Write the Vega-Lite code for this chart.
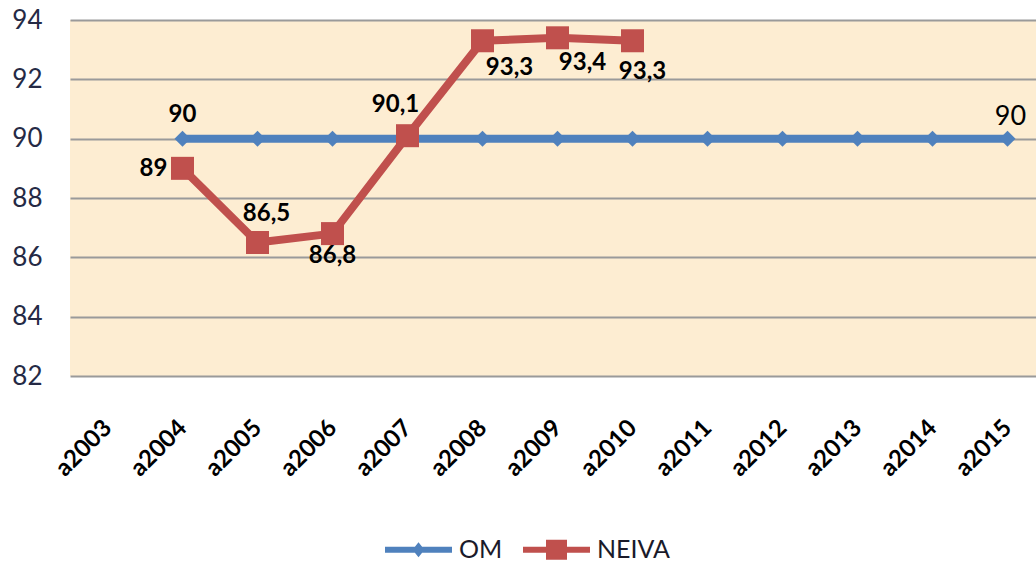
{
  "$schema": "https://vega.github.io/schema/vega-lite/v6.json",
  "width": 975,
  "height": 356,
  "autosize": "none",
  "padding": {"left": 70, "top": 20, "right": 0, "bottom": 189},
  "background": "white",
  "config": {
    "view": {"fill": "#FDEDD2", "stroke": null},
    "font": "Lato"
  },
  "data": {
    "values": [
      {"year": "a2004", "series": "OM", "value": 90, "label": "90"},
      {"year": "a2005", "series": "OM", "value": 90, "label": "90"},
      {"year": "a2006", "series": "OM", "value": 90, "label": "90"},
      {"year": "a2007", "series": "OM", "value": 90, "label": "90"},
      {"year": "a2008", "series": "OM", "value": 90, "label": "90"},
      {"year": "a2009", "series": "OM", "value": 90, "label": "90"},
      {"year": "a2010", "series": "OM", "value": 90, "label": "90"},
      {"year": "a2011", "series": "OM", "value": 90, "label": "90"},
      {"year": "a2012", "series": "OM", "value": 90, "label": "90"},
      {"year": "a2013", "series": "OM", "value": 90, "label": "90"},
      {"year": "a2014", "series": "OM", "value": 90, "label": "90"},
      {"year": "a2015", "series": "OM", "value": 90, "label": "90"},
      {"year": "a2004", "series": "NEIVA", "value": 89, "label": "89"},
      {"year": "a2005", "series": "NEIVA", "value": 86.5, "label": "86,5"},
      {"year": "a2006", "series": "NEIVA", "value": 86.8, "label": "86,8"},
      {"year": "a2007", "series": "NEIVA", "value": 90.1, "label": "90,1"},
      {"year": "a2008", "series": "NEIVA", "value": 93.3, "label": "93,3"},
      {"year": "a2009", "series": "NEIVA", "value": 93.4, "label": "93,4"},
      {"year": "a2010", "series": "NEIVA", "value": 93.3, "label": "93,3"}
    ]
  },
  "encoding": {
    "x": {
      "field": "year",
      "type": "ordinal",
      "scale": {"type": "point", "padding": 0.5, "domain": ["a2003", "a2004", "a2005", "a2006", "a2007", "a2008", "a2009", "a2010", "a2011", "a2012", "a2013", "a2014", "a2015"]},
      "axis": {
        "title": null,
        "domain": false,
        "ticks": false,
        "grid": false,
        "labelAngle": -45,
        "labelAlign": "right",
        "labelBaseline": "alphabetic",
        "labelPadding": 53,
        "labelOffset": 5,
        "labelFont": "Lato",
        "labelFontWeight": "bold",
        "labelFontSize": 24,
        "labelColor": "#000000"
      }
    },
    "y": {
      "field": "value",
      "type": "quantitative",
      "scale": {"domain": [82, 94], "nice": false, "zero": false},
      "axis": {
        "title": null,
        "values": [82, 84, 86, 88, 90, 92, 94],
        "domain": false,
        "ticks": false,
        "grid": true,
        "gridColor": "#9a9a9a",
        "gridWidth": 2,
        "labelPadding": 28,
        "labelFont": "Lato",
        "labelFontSize": 26,
        "labelColor": "#252a45"
      }
    },
    "color": {
      "field": "series",
      "type": "nominal",
      "scale": {"domain": ["OM", "NEIVA"], "range": ["#4F81BD", "#C0504D"]},
      "legend": {
        "title": null,
        "orient": "none",
        "direction": "horizontal",
        "legendX": 336,
        "legendY": 517,
        "symbolType": "square",
        "symbolSize": 400,
        "symbolOpacity": 1,
        "symbolStrokeWidth": 0,
        "labelOffset": 28,
        "columnPadding": 20,
        "labelFont": "Lato",
        "labelFontSize": 25,
        "labelColor": "#1a1a2a",
        "encode": {
          "symbols": {
            "update": {
              "fill": {"signal": "datum.value === 'OM' ? '#4F81BD' : '#C0504D'"},
              "shape": {"signal": "datum.value === 'OM' ? 'M-3.35,-0.3L3.35,-0.3L3.35,0.3L-3.35,0.3Z M0,-0.75L0.6,0L0,0.75L-0.6,0Z' : 'M-3.35,-0.3L3.35,-0.3L3.35,0.3L-3.35,0.3Z M-1.05,-1L1.05,-1L1.05,1L-1.05,1Z'"}
            }
          }
        }
      }
    }
  },
  "layer": [
    {
      "mark": {"type": "line", "strokeWidth": 8}
    },
    {
      "transform": [{"filter": "datum.series === 'OM'"}],
      "mark": {"type": "point", "shape": "diamond", "size": 256, "filled": true, "opacity": 1, "strokeWidth": 0}
    },
    {
      "transform": [{"filter": "datum.series === 'NEIVA'"}],
      "mark": {"type": "point", "shape": "square", "size": 529, "filled": true, "opacity": 1, "strokeWidth": 0}
    },
    {
      "transform": [{"filter": "datum.series === 'OM' && datum.year === 'a2004'"}],
      "mark": {"type": "text", "font": "Lato", "fontWeight": "bold", "fontSize": 24, "dy": -24, "baseline": "middle"},
      "encoding": {"text": {"field": "label"}, "color": {"value": "#000000"}}
    },
    {
      "transform": [{"filter": "datum.series === 'OM' && datum.year === 'a2015'"}],
      "mark": {"type": "text", "font": "Lato", "fontWeight": "normal", "fontSize": 27, "dx": 3, "dy": -22, "baseline": "middle"},
      "encoding": {"text": {"field": "label"}, "color": {"value": "#000000"}}
    },
    {
      "transform": [{"filter": "datum.series === 'NEIVA' && datum.year === 'a2004'"}],
      "mark": {"type": "text", "font": "Lato", "fontWeight": "bold", "fontSize": 24, "dx": -29, "dy": 1, "baseline": "middle"},
      "encoding": {"text": {"field": "label"}, "color": {"value": "#000000"}}
    },
    {
      "transform": [{"filter": "datum.series === 'NEIVA' && datum.year === 'a2005'"}],
      "mark": {"type": "text", "font": "Lato", "fontWeight": "bold", "fontSize": 24, "dx": 9, "dy": -29, "baseline": "middle"},
      "encoding": {"text": {"field": "label"}, "color": {"value": "#000000"}}
    },
    {
      "transform": [{"filter": "datum.series === 'NEIVA' && datum.year === 'a2006'"}],
      "mark": {"type": "text", "font": "Lato", "fontWeight": "bold", "fontSize": 24, "dx": 0, "dy": 22, "baseline": "middle"},
      "encoding": {"text": {"field": "label"}, "color": {"value": "#000000"}}
    },
    {
      "transform": [{"filter": "datum.series === 'NEIVA' && datum.year === 'a2007'"}],
      "mark": {"type": "text", "font": "Lato", "fontWeight": "bold", "fontSize": 24, "dx": -12, "dy": -31, "baseline": "middle"},
      "encoding": {"text": {"field": "label"}, "color": {"value": "#000000"}}
    },
    {
      "transform": [{"filter": "datum.series === 'NEIVA' && datum.year === 'a2008'"}],
      "mark": {"type": "text", "font": "Lato", "fontWeight": "bold", "fontSize": 24, "dx": 27, "dy": 27, "baseline": "middle"},
      "encoding": {"text": {"field": "label"}, "color": {"value": "#000000"}}
    },
    {
      "transform": [{"filter": "datum.series === 'NEIVA' && datum.year === 'a2009'"}],
      "mark": {"type": "text", "font": "Lato", "fontWeight": "bold", "fontSize": 24, "dx": 25, "dy": 25, "baseline": "middle"},
      "encoding": {"text": {"field": "label"}, "color": {"value": "#000000"}}
    },
    {
      "transform": [{"filter": "datum.series === 'NEIVA' && datum.year === 'a2010'"}],
      "mark": {"type": "text", "font": "Lato", "fontWeight": "bold", "fontSize": 24, "dx": 10, "dy": 31, "baseline": "middle"},
      "encoding": {"text": {"field": "label"}, "color": {"value": "#000000"}}
    }
  ]
}
